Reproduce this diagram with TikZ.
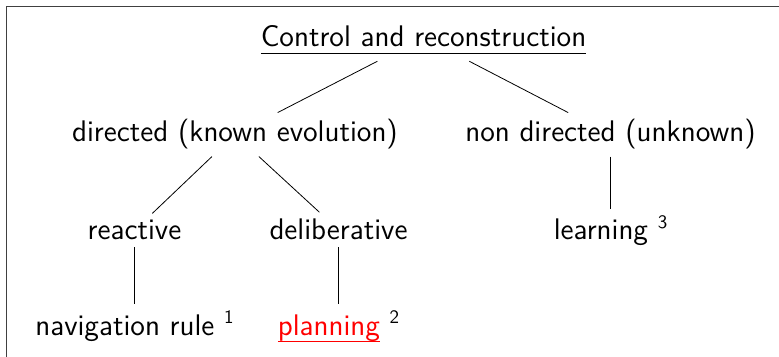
\documentclass[tikz,border=0pt]{standalone}
\newcommand\myul[1]{\setbox0\hbox{#1}\rlap{\vrule height -3.0pt depth 3.6pt width \wd0}\box0}
\newcommand\supnum[1]{\raisebox{5.6pt}{\fontsize{9.5}{10}\selectfont #1}}
\begin{document}
\begin{tikzpicture}[x=0.5pt,y=-0.5pt,
  every node/.style={font=\fontsize{14.9}{18}\selectfont\sffamily},
  lbl/.style={anchor=base},
  link/.style={draw=black, line width=0.4pt}]
\useasboundingbox (0,0) rectangle (779,357);
\draw[line width=0.6pt, black!75] (6.5,6.5) rectangle (820,390);
\node[lbl, text height=13.1pt, text depth=3.6pt] (root) at (423.5,47) {\myul{Control and reconstruction}};
\node[lbl] (dir) at (235,142) {directed (known evolution)};
\node[lbl] (nondir) at (610.5,142) {non directed (unknown)};
\node[lbl] (react) at (134.5,240) {reactive};
\node[lbl] (delib) at (338.5,240) {deliberative};
\node[lbl] (learn) at (610.5,240) {learning \supnum{3}};
\node[lbl] (nav) at (134.5,335) {navigation rule \supnum{1}};
\node[lbl] (plan) at (338.5,335) {{\color{red}\myul{planning}} \supnum{2}};
\draw[link] (root) -- (dir);
\draw[link] (root) -- (nondir);
\draw[link] (dir) -- (react);
\draw[link] (dir) -- (delib);
\draw[link] (nondir) -- (learn);
\draw[link] (react) -- (nav);
\draw[link] (delib) -- (plan);
\end{tikzpicture}
\end{document}
